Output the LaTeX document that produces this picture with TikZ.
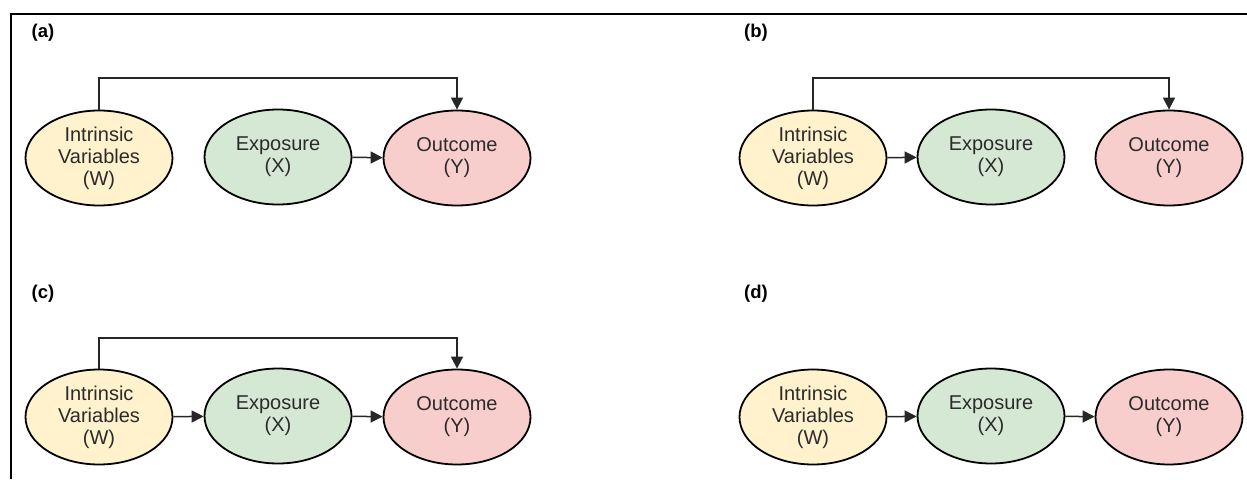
\documentclass[tikz,border=0pt]{standalone}
\usepackage{fontspec}
\setmainfont{Liberation Sans}
\usetikzlibrary{shapes.geometric,arrows.meta}
\definecolor{wfill}{HTML}{FFF2CC}
\definecolor{xfill}{HTML}{D5E8D4}
\definecolor{yfill}{HTML}{F8CECC}
\definecolor{txt}{HTML}{2B2B2B}
\begin{document}
\begin{tikzpicture}[x=1pt,y=-1pt,
  var/.style={ellipse,draw=black,line width=1.8pt,minimum width=147pt,minimum height=95pt,
    inner sep=0pt,align=center,text=txt,font=\fontsize{20}{22}\selectfont},
  wvar/.style={var,fill=wfill},
  xvar/.style={var,fill=xfill},
  yvar/.style={var,fill=yfill},
  panel/.style={font=\fontsize{18.5}{19}\selectfont\bfseries,inner sep=0pt},
  link/.style={line width=1.5pt,draw=black!85,-{Triangle[length=12pt,width=12pt]}}
]
\useasboundingbox (0,0) rectangle (1247,479);
\fill[white] (0,0) rectangle (1247,479);
% frame lines along top and left
\draw[line width=1.7pt] (11,479) -- (11,14) -- (1247,14);

% panel labels
\node[panel] (la) at (43,33) {(a)};
\node[panel] (lb) at (756,33) {(b)};
\node[panel] (lc) at (43,294) {(c)};
\node[panel] (ld) at (756,294) {(d)};

% (a)
\node[wvar] (Wa) at (99,158) {Intrinsic\\Variables\\(W)};
\node[xvar] (Xa) at (278,157) {Exposure\\(X)};
\node[yvar] (Ya) at (457,158) {Outcome\\(Y)};
\coordinate (ta) at (278,78);
\draw[link] (Xa) -- (Ya);
\draw[link] (Wa.north) |- (ta) -| (Ya.north);

% (b)
\node[wvar] (Wb) at (813,158) {Intrinsic\\Variables\\(W)};
\node[xvar] (Xb) at (991,157) {Exposure\\(X)};
\node[yvar] (Yb) at (1169,158) {Outcome\\(Y)};
\coordinate (tb) at (991,78);
\draw[link] (Wb) -- (Xb);
\draw[link] (Wb.north) |- (tb) -| (Yb.north);

% (c)
\node[wvar] (Wc) at (99,417) {Intrinsic\\Variables\\(W)};
\node[xvar] (Xc) at (278,416) {Exposure\\(X)};
\node[yvar] (Yc) at (457,417) {Outcome\\(Y)};
\coordinate (tc) at (278,338);
\draw[link] (Wc) -- (Xc);
\draw[link] (Xc) -- (Yc);
\draw[link] (Wc.north) |- (tc) -| (Yc.north);

% (d)
\node[wvar] (Wd) at (813,417) {Intrinsic\\Variables\\(W)};
\node[xvar] (Xd) at (991,416) {Exposure\\(X)};
\node[yvar] (Yd) at (1169,417) {Outcome\\(Y)};
\draw[link] (Wd) -- (Xd);
\draw[link] (Xd) -- (Yd);
\end{tikzpicture}
\end{document}
